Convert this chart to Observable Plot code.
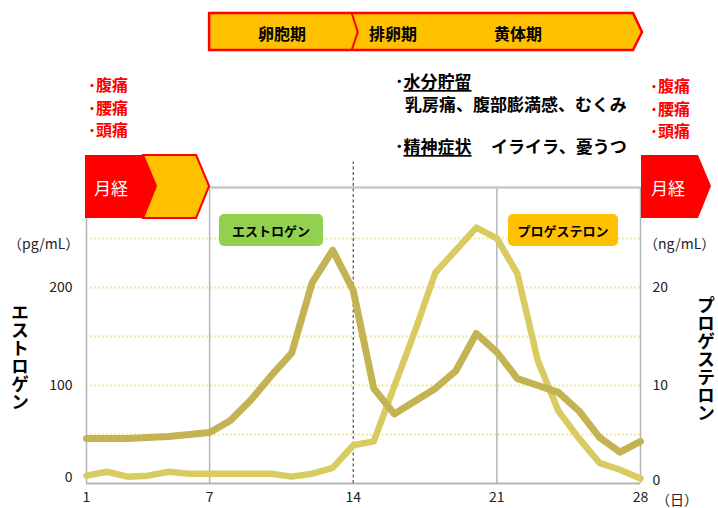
<!DOCTYPE html>
<html><head><meta charset="utf-8">
<script src="https://cdn.jsdelivr.net/npm/d3@7"></script>
<script src="https://cdn.jsdelivr.net/npm/@observablehq/plot@0.6"></script>
<style>body{margin:0;background:#fff;} svg{display:block}</style>
</head><body><div id="chart"></div>
<script>
// ---- data ----
const days = [1,2,3,4,5,6,7,8,9,10,11,12,13,14,15,16,17,18,19,20,21,22,23,24,25,26,27,28];
const estrogen = [46,46,46,47,48,50,52,64,85,110,133,205,238,197,97,71,84,97,115,153,134,107,100,93,74,47,32,43]; // pg/mL
const progesterone = [0.8,1.2,0.7,0.8,1.2,1.0,1.0,1.0,1.0,1.0,0.7,1.0,1.6,3.9,4.3,9.9,15.5,21.5,23.8,26.1,25.0,21.4,12.5,7.4,4.6,2.1,1.4,0.5]; // ng/mL
const xTicks = [1,7,14,21,28];
const leftTicks = [0,100,200];
const rightTicks = [0,10,20];
const gridValues = [50,100,150,200,250];
const frameDays = [1,7,21,28];
const ovulationDay = 14;
const phases = ["卵胞期","排卵期","黄体期"];
const symptoms = ["腹痛","腰痛","頭痛"];
const seriesNames = ["エストロゲン","プロゲステロン"];

const K = 10; // shared scale: 1 ng/mL progesterone = 10 units
const data = days.map((d,i)=>({day:d, estrogen:estrogen[i], progesterone:progesterone[i]}));
const FONT = "'Noto Sans CJK JP','Noto Sans',sans-serif";

const chart = Plot.plot({
  width:718, height:508, marginLeft:86, marginRight:78, marginTop:187, marginBottom:25,
  style:{fontFamily:FONT, fontSize:"14px", color:"#222", background:"#fff", overflow:"visible"},
  x:{domain:[1,28]}, y:{domain:[0,302]},
  marks:[
    Plot.ruleY(gridValues,{stroke:"#e6dd9c", strokeWidth:2, strokeDasharray:"1.5,2.5"}),
    Plot.ruleX(frameDays,{stroke:"#b5b5b5", strokeWidth:1.5}),
    Plot.ruleY([0],{stroke:"#b5b5b5", strokeWidth:2}),
    Plot.ruleY([302],{stroke:"#c8c8c8", strokeWidth:2.5}),
    Plot.ruleX([ovulationDay],{y1:0, y2:328, stroke:"#555", strokeDasharray:"3,2.5", strokeWidth:1.2}),
    Plot.line(data,{x:"day", y:d=>d.progesterone*K, stroke:"#d8cc60", strokeWidth:6.5}),
    Plot.line(data,{x:"day", y:"estrogen", stroke:"#c4b352", strokeWidth:7}),
    Plot.axisX({ticks:xTicks, tickSize:0, tickPadding:9, label:null}),
    Plot.axisY({ticks:leftTicks.filter(v=>v>0), tickSize:0, tickPadding:14, label:null}),
    Plot.axisY({ticks:[0], tickSize:0, tickPadding:14, label:null, dy:-6}),
    Plot.axisY({anchor:"right", ticks:rightTicks.filter(v=>v>0).map(v=>v*K), tickFormat:d=>d/K, tickSize:0, tickPadding:12, label:null}),
    Plot.axisY({anchor:"right", ticks:[0], tickFormat:d=>d/K, tickSize:0, tickPadding:12, label:null, dy:-3})
  ]
});
document.getElementById("chart").appendChild(chart);

// ---- decorations ----
const X = chart.scale("x").apply;
const svg = d3.select(chart);
const g = svg.append("g").attr("font-family", FONT);
const RED = "#ff0000", GOLD = "#ffc000";
const poly = (pts, fill, stroke, sw) => g.append("polygon")
  .attr("points", pts.map(p=>p.join(",")).join(" "))
  .attr("fill", fill).attr("stroke", stroke||"none").attr("stroke-width", sw||0).attr("stroke-linejoin","miter");
const txt = (x,y,s,opt={}) => g.append("text").attr("x",x).attr("y",y)
  .attr("dominant-baseline","central").attr("text-anchor",opt.anchor||"start")
  .attr("font-size",opt.size||14).attr("font-weight",opt.weight||"normal")
  .attr("fill",opt.fill||"#000").text(s);

// top phase banner
const x7 = X(7), x14 = X(14), x28 = X(28);
poly([[x7,13],[x28-7,13],[x28+2,32],[x28-7,50],[x7,50]], GOLD, RED, 2.5);
g.append("polyline").attr("points",`${x14-1},13 ${x14+5},32 ${x14-1},50`).attr("fill","none").attr("stroke",RED).attr("stroke-width",2);
txt(282,33,phases[0],{anchor:"middle",size:16,weight:"bold"});
txt(393,33,phases[1],{anchor:"middle",size:16,weight:"bold"});
txt(518,33,phases[2],{anchor:"middle",size:16,weight:"bold"});

// menstrual blocks
const x1 = X(1);
poly([[143,155],[x7-13,155],[x7,186],[x7-13,218],[143,218],[156,186]], GOLD, RED, 2);
poly([[x1-1,155],[143,155],[156,186],[143,218],[x1-1,218]], RED);
txt(111,187,"月経",{anchor:"middle",size:17,fill:"#fff"});
poly([[x28+1,155],[698,155],[711,186],[698,218],[x28+1,218]], RED);
txt(668,187,"月経",{anchor:"middle",size:17,fill:"#fff"});

// symptom lists (red)
symptoms.forEach((s,i)=>{
  txt(88, 84+i*22.5, "･"+s, {size:16, weight:"bold", fill:RED});
  txt(650, 85+i*22.5, "･"+s, {size:16, weight:"bold", fill:RED});
});

// luteal symptoms
const t1 = txt(395,80,"",{size:17,weight:"bold"});
t1.append("tspan").text("･");
t1.append("tspan").attr("text-decoration","underline").text("水分貯留");
txt(405,103,"乳房痛、腹部膨満感、むくみ",{size:17,weight:"bold"});
const t2 = txt(395,145,"",{size:17,weight:"bold"});
t2.append("tspan").text("･");
t2.append("tspan").attr("text-decoration","underline").text("精神症状");
txt(491,145,"イライラ、憂うつ",{size:17,weight:"bold"});

// series label boxes
g.append("rect").attr("x",219).attr("y",214).attr("width",104).attr("height",32).attr("rx",5).attr("fill","#92d050");
txt(271,230,seriesNames[0],{anchor:"middle",size:13,weight:"bold"});
g.append("rect").attr("x",508).attr("y",214).attr("width",110).attr("height",32).attr("rx",5).attr("fill",GOLD);
txt(563,230,seriesNames[1],{anchor:"middle",size:13,weight:"bold"});

// unit labels
txt(8,243,"（pg/mL）",{size:14,fill:"#222"});
txt(644,243,"（ng/mL）",{size:14,fill:"#222"});
txt(656,499,"（日）",{size:14,fill:"#222"});

// vertical axis titles (vertical writing mode, centred on y)
const vtitle = (s, cx, cy) => g.append("text").attr("x",cx).attr("y",cy)
  .attr("text-anchor","middle")
  .attr("font-size",18).attr("font-weight","bold").attr("fill","#000")
  .style("writing-mode","vertical-rl").style("text-orientation","upright")
  .text(s);
vtitle(seriesNames[0], 20, 357);
vtitle(seriesNames[1], 706, 359);
</script>
</body></html>
